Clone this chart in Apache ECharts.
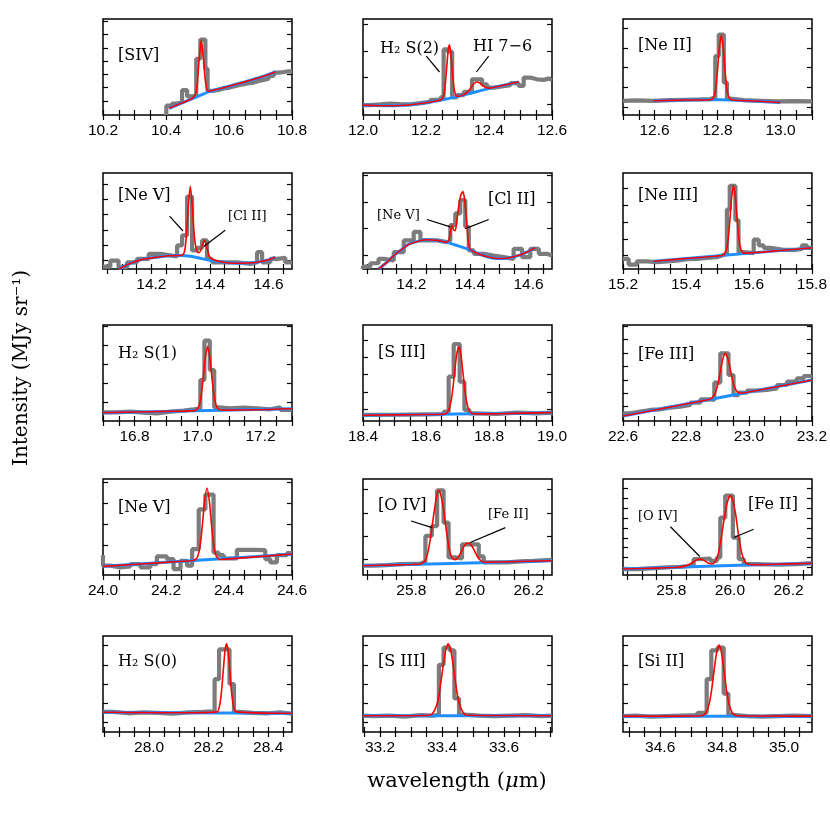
<!DOCTYPE html>
<html><head><meta charset="utf-8">
<script src="https://cdn.jsdelivr.net/npm/echarts@6/dist/echarts.min.js"></script>
<style>html,body{margin:0;padding:0;background:#fff}#c{width:830px;height:830px}</style>
</head><body><div id="c"></div>
<script>
// ---------- x ranges and tick labels ----------
const xRanges = [[10.2,10.8],[12.0,12.6],[12.5,13.1],[14.035,14.68],[14.035,14.68],[15.2,15.8],[16.7,17.3],[18.4,19.0],[22.6,23.2],[24.0,24.6],[25.635,26.28],[25.635,26.28],[27.845,28.48],[33.145,33.755],[34.48,35.09]];
const xLabels = [[10.2,10.4,10.6,10.8],[12.0,12.2,12.4,12.6],[12.6,12.8,13.0],[14.2,14.4,14.6],[14.2,14.4,14.6],[15.2,15.4,15.6,15.8],[16.8,17.0,17.2],[18.4,18.6,18.8,19.0],[22.6,22.8,23.0,23.2],[24.0,24.2,24.4,24.6],[25.8,26.0,26.2],[25.8,26.0,26.2],[28.0,28.2,28.4],[33.2,33.4,33.6],[34.6,34.8,35.0]];
const yTickStart = [14.8,11.4,7.9,8.8,14,14,19.1,12.2,14.9,9.7,16.6,7.9,10,10,10];
const yTickStep  = [13.8,27.6,20.7,16,28,17.5,20,18,14,21.7,24.1,10.3,20,20,20];

// ---------- observed spectra (bin right edge, intensity) ----------
const p1Obs = [[10.401,0],[10.419,9.7],[10.435,12],[10.451,13.8],[10.467,25.9],[10.483,19.3],[10.496,20.7],[10.509,58.6],[10.525,78.6],[10.532,48.3],[10.551,25.2],[10.567,26.2],[10.583,27.6],[10.599,28.3],[10.615,29.7],[10.631,31],[10.647,32],[10.662,33.1],[10.678,33.8],[10.694,35.5],[10.710,36.6],[10.726,37.9],[10.742,40.7],[10.758,44.1],[10.774,44.8],[10.789,45.5],[10.8,45.5]];
const p2Obs = [[12.0,10.3],[12.023,10.3],[12.055,11],[12.087,12],[12.119,11.4],[12.150,11],[12.182,12.4],[12.214,13.8],[12.246,15.9],[12.256,18.3],[12.269,68.3],[12.283,66],[12.298,18.3],[12.320,20.7],[12.346,24.1],[12.378,37.2],[12.394,32],[12.415,28.6],[12.441,29.7],[12.468,31],[12.494,33.1],[12.510,30.3],[12.531,39],[12.552,37.2],[12.574,36.6],[12.589,37.9],[12.6,36.6]];
const p3Obs = [[12.5,14.8],[12.544,15.2],[12.597,14.8],[12.650,15.5],[12.703,15.9],[12.746,16.2],[12.777,16.6],[12.793,18.3],[12.804,61.4],[12.820,83.8],[12.830,33.8],[12.841,17.2],[12.883,15.5],[12.936,14.8],[12.989,14.1],[13.042,14.5],[13.1,14.1]];
const p4Obs = [[14.035,2.5],[14.060,2.5],[14.088,8.8],[14.117,1.8],[14.151,7],[14.191,10.5],[14.231,15.8],[14.270,14],[14.288,13],[14.305,24.6],[14.322,35.1],[14.339,75.4],[14.356,19.3],[14.373,22],[14.390,29.8],[14.407,10.5],[14.447,7],[14.492,7],[14.538,5.3],[14.561,7],[14.578,17.5],[14.606,7],[14.629,10.5],[14.657,11.6],[14.68,7]];
const p5Obs = [[14.035,0],[14.060,2.5],[14.088,6],[14.106,10.5],[14.140,8.8],[14.174,17.5],[14.208,29.8],[14.231,38.6],[14.253,29.8],[14.288,29.8],[14.322,28],[14.333,29.8],[14.350,45.6],[14.367,57.9],[14.384,71.9],[14.396,43.9],[14.413,19.3],[14.447,15.8],[14.481,14],[14.515,12.3],[14.549,10.5],[14.578,21],[14.606,12.3],[14.635,21],[14.663,15.8],[14.68,14]];
const p6Obs = [[15.2,10.5],[15.218,10.5],[15.244,4.6],[15.276,8],[15.308,7],[15.340,8],[15.371,8.8],[15.403,10.2],[15.435,10.5],[15.467,11.6],[15.498,12.3],[15.514,14],[15.530,15.8],[15.539,62],[15.557,86.7],[15.567,50.9],[15.583,17.5],[15.615,16.5],[15.631,30.5],[15.647,24.6],[15.668,22],[15.710,20],[15.752,20],[15.768,21],[15.784,24.6],[15.8,22]];
const p7Obs = [[16.7,9],[16.744,9],[16.787,9.7],[16.829,8.7],[16.871,8],[16.914,9.7],[16.956,10.8],[16.988,12.2],[17.009,13.2],[17.022,42.7],[17.039,83.7],[17.053,53.1],[17.067,14.2],[17.104,13.2],[17.147,13.9],[17.189,13.2],[17.231,12.2],[17.263,14.2],[17.3,11.5]];
const p8Obs = [[18.4,6.3],[18.5,6.5],[18.6,7],[18.656,7.3],[18.672,9.7],[18.688,46.2],[18.707,80.2],[18.722,41],[18.738,11.5],[18.762,8],[18.825,7.3],[18.889,8.7],[18.952,8],[19.0,8.7]];
const p9Obs = [[22.6,8],[22.623,8],[22.655,9.7],[22.687,11.5],[22.719,12.2],[22.750,13.9],[22.782,14.9],[22.814,16.7],[22.846,19.1],[22.877,22.6],[22.890,21.9],[22.909,39.9],[22.935,70.5],[22.951,47.9],[22.967,27],[22.994,29.5],[23.025,31.6],[23.057,32.3],[23.089,34],[23.121,37.5],[23.152,41],[23.174,44.4],[23.2,46.9]];
const p10Obs = [[24.0,20.7],[24.023,9.7],[24.055,7.9],[24.087,9],[24.119,11.4],[24.150,7.9],[24.171,11.4],[24.203,19.3],[24.224,16.6],[24.246,6.2],[24.267,14.8],[24.283,9.7],[24.304,26.9],[24.325,68.3],[24.351,83.8],[24.367,23.4],[24.383,20.7],[24.425,17.2],[24.478,26.2],[24.515,25.9],[24.531,16.6],[24.552,13.1],[24.584,20.7],[24.6,22.8]];
const p11Obs = [[25.635,9.7],[25.671,9.7],[25.717,10.3],[25.762,11.4],[25.831,12],[25.848,13.8],[25.870,40.7],[25.888,51],[25.910,88.3],[25.927,54.5],[25.950,18.3],[25.973,17.2],[25.996,32],[26.030,32],[26.047,19.3],[26.081,13.1],[26.126,13.1],[26.172,14.1],[26.217,14.8],[26.28,15.9]];
const p12Obs = [[25.635,6.2],[25.683,6.2],[25.728,6.9],[25.785,7.9],[25.831,8.6],[25.876,9.7],[25.905,16.6],[25.933,17.2],[25.956,14.8],[25.967,18.3],[25.984,59.7],[26.010,82.8],[26.030,39],[26.047,16.6],[26.092,11.4],[26.161,10.7],[26.229,11.4],[26.28,12.4]];
const p13Obs = [[27.845,21],[27.88,21],[27.93,19.5],[27.98,20.5],[28.03,20],[28.08,19],[28.13,20.5],[28.18,21],[28.22,21.5],[28.235,55],[28.27,86],[28.285,50],[28.30,21],[28.35,20],[28.40,19.5],[28.44,20.5],[28.48,19]];
const p14Obs = [[33.145,17],[33.18,16.5],[33.23,17],[33.28,16],[33.33,17.5],[33.37,17],[33.39,18],[33.405,70],[33.425,88],[33.44,85],[33.455,35],[33.47,18],[33.52,17],[33.57,16.5],[33.62,17],[33.67,17.5],[33.72,16.5],[33.755,17]];
const p15Obs = [[34.48,16.5],[34.52,17],[34.57,16],[34.62,16.5],[34.67,17],[34.72,17.5],[34.75,20],[34.765,55],[34.785,85],[34.805,88],[34.82,40],[34.835,18],[34.88,16.5],[34.93,16],[34.98,16.5],[35.03,17],[35.09,16.5]];

// ---------- fitted models ----------
const p1Fit = [[10.41,6.9],[10.45,12.5],[10.48,16.6],[10.49,19.5],[10.495,23.3],[10.50,35.1],[10.505,57.1],[10.512,78],[10.519,58],[10.524,38.5],[10.529,27.5],[10.535,24.7],[10.54,24.9],[10.6,30],[10.65,34.5],[10.7,39.3],[10.747,44.8]];
const p2Fit = [[12.0,10.3],[12.066,9.7],[12.119,9.9],[12.171,11.4],[12.224,14.1],[12.25,16.2],[12.258,23.8],[12.262,34.7],[12.266,50.7],[12.270,66.4],[12.274,73.2],[12.278,66.6],[12.282,51.8],[12.286,36.3],[12.290,26],[12.296,20.1],[12.305,19.5],[12.32,21.2],[12.33,23.4],[12.34,27.2],[12.35,31.7],[12.36,34.4],[12.37,33.5],[12.38,30.7],[12.39,28.7],[12.40,28],[12.436,30.3],[12.494,34.5]];
const p3Fit = [[12.597,14.8],[12.7,15.6],[12.78,15.9],[12.79,20.6],[12.795,29.3],[12.80,46.2],[12.805,66.9],[12.812,82.9],[12.819,66.9],[12.824,46],[12.829,29],[12.834,20.4],[12.844,15.8],[12.9,14.8],[12.999,13.1]];
const p4Fit = [[14.088,0],[14.13,6],[14.17,10],[14.219,12.3],[14.26,13.8],[14.299,14],[14.31,15.7],[14.316,23.6],[14.321,40.7],[14.326,65.5],[14.333,86.2],[14.340,65],[14.345,40],[14.350,26],[14.356,18.5],[14.362,17],[14.368,19],[14.374,25],[14.381,29.8],[14.388,25],[14.394,17],[14.401,11.5],[14.447,7],[14.50,6],[14.55,6.5],[14.572,7.7],[14.6,9.5],[14.623,12.3]];
const p5Fit = [[14.088,0],[14.12,8],[14.14,14],[14.17,21],[14.19,25.6],[14.225,29],[14.25,30.5],[14.29,29.8],[14.32,28],[14.328,30],[14.334,40],[14.339,45.6],[14.344,41],[14.350,40],[14.356,52],[14.362,66],[14.369,77],[14.376,80.7],[14.382,72],[14.388,52],[14.393,32],[14.398,22],[14.405,19.5],[14.42,17],[14.45,13.5],[14.49,11],[14.53,11.5],[14.57,14.5],[14.6,18.5],[14.623,22.1]];
const p6Fit = [[15.297,8],[15.4,10.9],[15.5,13.6],[15.52,14.8],[15.53,22.4],[15.535,33.9],[15.54,53.5],[15.545,74.3],[15.551,86.7],[15.557,74.6],[15.562,54.1],[15.567,34.8],[15.572,23.5],[15.582,16.5],[15.7,19.2],[15.8,22]];
const p7Fit = [[16.7,8.7],[16.9,10],[16.98,10.5],[16.995,11.1],[17.005,16],[17.012,27.4],[17.018,44.1],[17.025,66.8],[17.032,77.5],[17.039,66.9],[17.046,44.4],[17.052,27.7],[17.059,16.5],[17.069,11.8],[17.085,11.3],[17.3,12.8]];
const p8Fit = [[18.4,6],[18.6,6.8],[18.65,7],[18.665,8],[18.675,14],[18.683,28],[18.69,48],[18.697,68.3],[18.704,77.3],[18.711,68.4],[18.718,48.1],[18.725,28.2],[18.733,14.2],[18.743,8.3],[18.76,7.4],[19.0,8.7]];
const p9Fit = [[22.6,5.2],[22.8,17.7],[22.86,21.5],[22.875,22.7],[22.885,24.8],[22.895,31],[22.905,44.3],[22.915,61.7],[22.925,70.5],[22.935,62.9],[22.945,46.8],[22.955,34.8],[22.965,29.8],[22.975,28.9],[22.99,29.6],[23.2,42.7]];
const p10Fit = [[24.0,9],[24.2,13.2],[24.28,14.9],[24.29,15.4],[24.30,18.8],[24.308,29.7],[24.315,50.1],[24.322,75.6],[24.33,90.7],[24.338,75.9],[24.345,50.5],[24.352,30.3],[24.36,19.4],[24.37,16.2],[24.38,16.3],[24.6,21.7]];
const p11Fit = [[25.635,9.7],[25.75,10.5],[25.80,11],[25.83,11.5],[25.845,14],[25.855,22],[25.865,38],[25.875,60],[25.885,80],[25.893,88.3],[25.90,84],[25.91,68],[25.92,45],[25.93,26],[25.94,17],[25.95,16],[25.96,18.5],[25.97,24],[25.98,30],[25.99,33],[25.996,33.1],[26.005,31],[26.015,25.5],[26.025,19.5],[26.035,15.5],[26.05,13.3],[26.1,13.5],[26.2,14.3],[26.28,14.8]];
const p12Fit = [[25.635,6.2],[25.75,7.2],[25.82,8],[25.85,9.5],[25.87,12.5],[25.885,15.5],[25.899,16.6],[25.91,15.5],[25.925,12.5],[25.939,11.4],[25.95,14],[25.96,22],[25.97,38],[25.98,58],[25.99,75],[26.001,82.8],[26.01,78],[26.02,62],[26.03,40],[26.04,23],[26.05,14.5],[26.06,11.5],[26.08,10.8],[26.15,11.2],[26.28,12.1]];
const p13Fit = [[27.845,20.5],[28.1,20],[28.228,21],[28.236,26.5],[28.243,41.6],[28.25,67.5],[28.255,85],[28.26,92],[28.265,85],[28.27,67.5],[28.277,41.6],[28.284,26.5],[28.292,21],[28.48,19.5]];
const p14Fit = [[33.145,17],[33.3,17],[33.36,17.4],[33.372,20.3],[33.384,29.4],[33.393,44],[33.402,65],[33.411,83.8],[33.42,92],[33.429,83.8],[33.438,65],[33.447,44],[33.456,29.4],[33.468,20.3],[33.48,17.4],[33.755,17]];
const p15Fit = [[34.48,16.5],[34.65,16.5],[34.735,16.9],[34.747,19.8],[34.758,29.1],[34.766,43.9],[34.774,63.9],[34.782,82.4],[34.79,90.5],[34.798,82.4],[34.806,63.9],[34.814,43.9],[34.822,29.1],[34.833,19.8],[34.845,16.9],[35.09,16.5]];

// ---------- continua ----------
const p1Cont = [[10.41,6.9],[10.45,12.5],[10.48,16.5],[10.50,19.2],[10.52,22],[10.54,24.8],[10.6,30],[10.65,34.5],[10.7,39.3],[10.747,44.8]];
const p2Cont = [[12.0,10.3],[12.066,9.7],[12.119,9.9],[12.171,11.4],[12.224,14.1],[12.277,17.6],[12.330,21.7],[12.383,26.2],[12.436,30.3],[12.494,34.5]];
const p3Cont = [[12.597,14.8],[12.7,15.6],[12.812,15.9],[12.9,14.8],[12.999,13.1]];
const p4Cont = [[14.088,0],[14.13,6],[14.17,10],[14.219,12.3],[14.26,13.8],[14.30,14],[14.333,13.2],[14.36,11.7],[14.40,9],[14.447,7],[14.50,6],[14.55,6.5],[14.572,7.7],[14.6,9.5],[14.623,12.3]];
const p5Cont = [[14.088,0],[14.12,8],[14.14,14],[14.17,21],[14.19,25.6],[14.225,29],[14.25,30.5],[14.29,29.8],[14.32,28],[14.35,25],[14.38,22],[14.405,19.5],[14.42,17],[14.45,13.5],[14.49,11],[14.53,11.5],[14.57,14.5],[14.6,18.5],[14.623,22.1]];
const p6Cont = [[15.297,8],[15.8,22]];
const p7Cont = [[16.7,8.7],[17.3,12.8]];
const p8Cont = [[18.4,6],[18.6,6.8],[18.8,7.8],[19.0,8.7]];
const p9Cont = [[22.6,5.2],[23.2,42.7]];
const p10Cont = [[24.0,9],[24.6,21.7]];
const p11Cont = [[25.635,9.7],[25.9,11.8],[26.28,14.8]];
const p12Cont = [[25.635,6.2],[26.0,9.8],[26.28,12.1]];
const p13Cont = [[27.845,20.5],[28.1,20],[28.48,19.5]];
const p14Cont = [[33.145,17],[33.755,17]];
const p15Cont = [[34.48,16.5],[35.09,16.5]];

// ---------- annotation pointers (data coords) ----------
const pointers = {
  1: [[[12.201,61.4],[12.243,44.8]],[[12.399,61.4],[12.360,44.8]]],
  3: [[[14.262,55.1],[14.308,39.6]],[[14.452,40.4],[14.379,23.5]]],
  4: [[[14.253,51.6],[14.333,43.9]],[[14.464,51.6],[14.384,42.1]]],
  10: [[[25.799,56.2],[25.871,49.3]],[[26.121,49.3],[26.001,33.8]]],
  11: [[[25.797,50.3],[25.897,19.3]],[[26.081,47.6],[26.013,39]]]
};

const obsAll = [p1Obs,p2Obs,p3Obs,p4Obs,p5Obs,p6Obs,p7Obs,p8Obs,p9Obs,p10Obs,p11Obs,p12Obs,p13Obs,p14Obs,p15Obs];
const fitAll = [p1Fit,p2Fit,p3Fit,p4Fit,p5Fit,p6Fit,p7Fit,p8Fit,p9Fit,p10Fit,p11Fit,p12Fit,p13Fit,p14Fit,p15Fit];
const contAll = [p1Cont,p2Cont,p3Cont,p4Cont,p5Cont,p6Cont,p7Cont,p8Cont,p9Cont,p10Cont,p11Cont,p12Cont,p13Cont,p14Cont,p15Cont];

// ---------- layout ----------
const colLeft = [103, 363, 623];
const rowTop = [19, 173, 325, 479, 636];
const PW = 189, PH = 96;

function tickVals(min, max, step) {
  const out = [];
  let k = Math.ceil(min / step - 1e-6);
  while (k * step <= max + 1e-6) { out.push(+(k * step).toFixed(4)); k++; }
  return out;
}
function yTicks(start, step) {
  const out = [];
  for (let v = start; v < 100; v += step) out.push(+v.toFixed(3));
  return out;
}

const grids = [], xAxes = [], yAxes = [], series = [];
const tickStyle = {show: true, inside: true, length: 5, lineStyle: {color: '#000', width: 1.2}};
for (let i = 0; i < 15; i++) {
  const r = Math.floor(i / 3), c = i % 3;
  grids.push({left: colLeft[c], top: rowTop[r], width: PW, height: PH, show: true, borderColor: '#000', borderWidth: 1.5, backgroundColor: 'transparent'});
  const [mn, mx] = xRanges[i];
  const xt = tickVals(mn, mx, 0.05);
  xAxes.push({type: 'value', gridIndex: i, position: 'bottom', min: mn, max: mx,
    axisLine: {show: false}, splitLine: {show: false},
    axisTick: Object.assign({}, tickStyle, {customValues: xt}),
    axisLabel: {show: true, customValues: xLabels[i], margin: 8, color: '#000', fontSize: 15.5, fontFamily: 'Liberation Sans', formatter: v => v.toFixed(1), showMinLabel: true, showMaxLabel: true}});
  xAxes.push({type: 'value', gridIndex: i, position: 'top', min: mn, max: mx,
    axisLine: {show: false}, splitLine: {show: false},
    axisTick: Object.assign({}, tickStyle, {customValues: xt}),
    axisLabel: {show: false}});
  const yt = yTicks(yTickStart[i], yTickStep[i]);
  yAxes.push({type: 'value', gridIndex: i, position: 'left', min: 0, max: 100,
    axisLine: {show: false}, splitLine: {show: false},
    axisTick: Object.assign({}, tickStyle, {customValues: yt}), axisLabel: {show: false}});
  yAxes.push({type: 'value', gridIndex: i, position: 'right', min: 0, max: 100,
    axisLine: {show: false}, splitLine: {show: false},
    axisTick: Object.assign({}, tickStyle, {customValues: yt}), axisLabel: {show: false}});
  series.push({type: 'line', xAxisIndex: 2 * i, yAxisIndex: 2 * i, data: obsAll[i], step: 'start', showSymbol: false, symbol: 'none',
    lineStyle: {color: '#7c7c7c', width: 4.2}, z: 2, clip: true});
  series.push({type: 'line', xAxisIndex: 2 * i, yAxisIndex: 2 * i, data: contAll[i], smooth: 0.3, showSymbol: false, symbol: 'none',
    lineStyle: {color: '#1e8fff', width: 3}, z: 3, clip: true});
  const fitSeries = {type: 'line', xAxisIndex: 2 * i, yAxisIndex: 2 * i, data: fitAll[i], smooth: 0.22, showSymbol: false, symbol: 'none',
    lineStyle: {color: '#ff0000', width: 1.6}, z: 4, clip: true};
  if (pointers[i]) {
    fitSeries.markLine = {silent: true, symbol: ['none', 'none'], animation: false, label: {show: false},
      lineStyle: {color: '#000', width: 1.2, type: 'solid'},
      data: pointers[i].map(p => [{coord: p[0]}, {coord: p[1]}])};
  }
  series.push(fitSeries);
}

// ---------- text labels ----------
const big = '16px "DejaVu Serif"', small = '13px "DejaVu Serif"';
const texts = [
  ['[SIV]', 118, 56, big], ['H₂ S(2)', 380, 49, big], ['HI 7−6', 473, 47, big], ['[Ne II]', 638, 46, big],
  ['[Ne V]', 118, 196, big], ['[Cl II]', 228, 217, small],
  ['[Ne V]', 377, 216, small], ['[Cl II]', 488, 200, big],
  ['[Ne III]', 638, 196, big],
  ['H₂ S(1)', 118, 354, big], ['[S III]', 378, 353, big], ['[Fe III]', 638, 355, big],
  ['[Ne V]', 118, 508, big], ['[O IV]', 378, 506, big], ['[Fe II]', 488, 515, small],
  ['[O IV]', 638, 517, small], ['[Fe II]', 748, 505, big],
  ['H₂ S(0)', 118, 662, big], ['[S III]', 378, 662, big], ['[Si II]', 638, 662, big]
];
const graphic = texts.map(t => ({type: 'text', x: t[1], y: t[2], silent: true,
  style: {text: t[0], font: t[3], fill: '#000', verticalAlign: 'middle', align: 'left'}}));
graphic.push({type: 'text', x: 22, y: 368, rotation: Math.PI / 2, silent: true,
  style: {text: 'Intensity (MJy sr⁻¹)', font: '20px "DejaVu Serif"', fill: '#000', align: 'center', verticalAlign: 'middle'}});
graphic.push({type: 'text', x: 457, y: 782, silent: true,
  style: {text: '{a|wavelength (}{i|μ}{a|m)}', fill: '#000', align: 'center', verticalAlign: 'middle',
    rich: {a: {font: '21px "DejaVu Serif"', fill: '#000'}, i: {font: 'italic 21px "DejaVu Serif"', fill: '#000'}}}});

const chart = echarts.init(document.getElementById('c'), null, {renderer: 'canvas'});
chart.setOption({animation: false, backgroundColor: '#fff', grid: grids, xAxis: xAxes, yAxis: yAxes, series: series, graphic: graphic});
</script></body></html>
